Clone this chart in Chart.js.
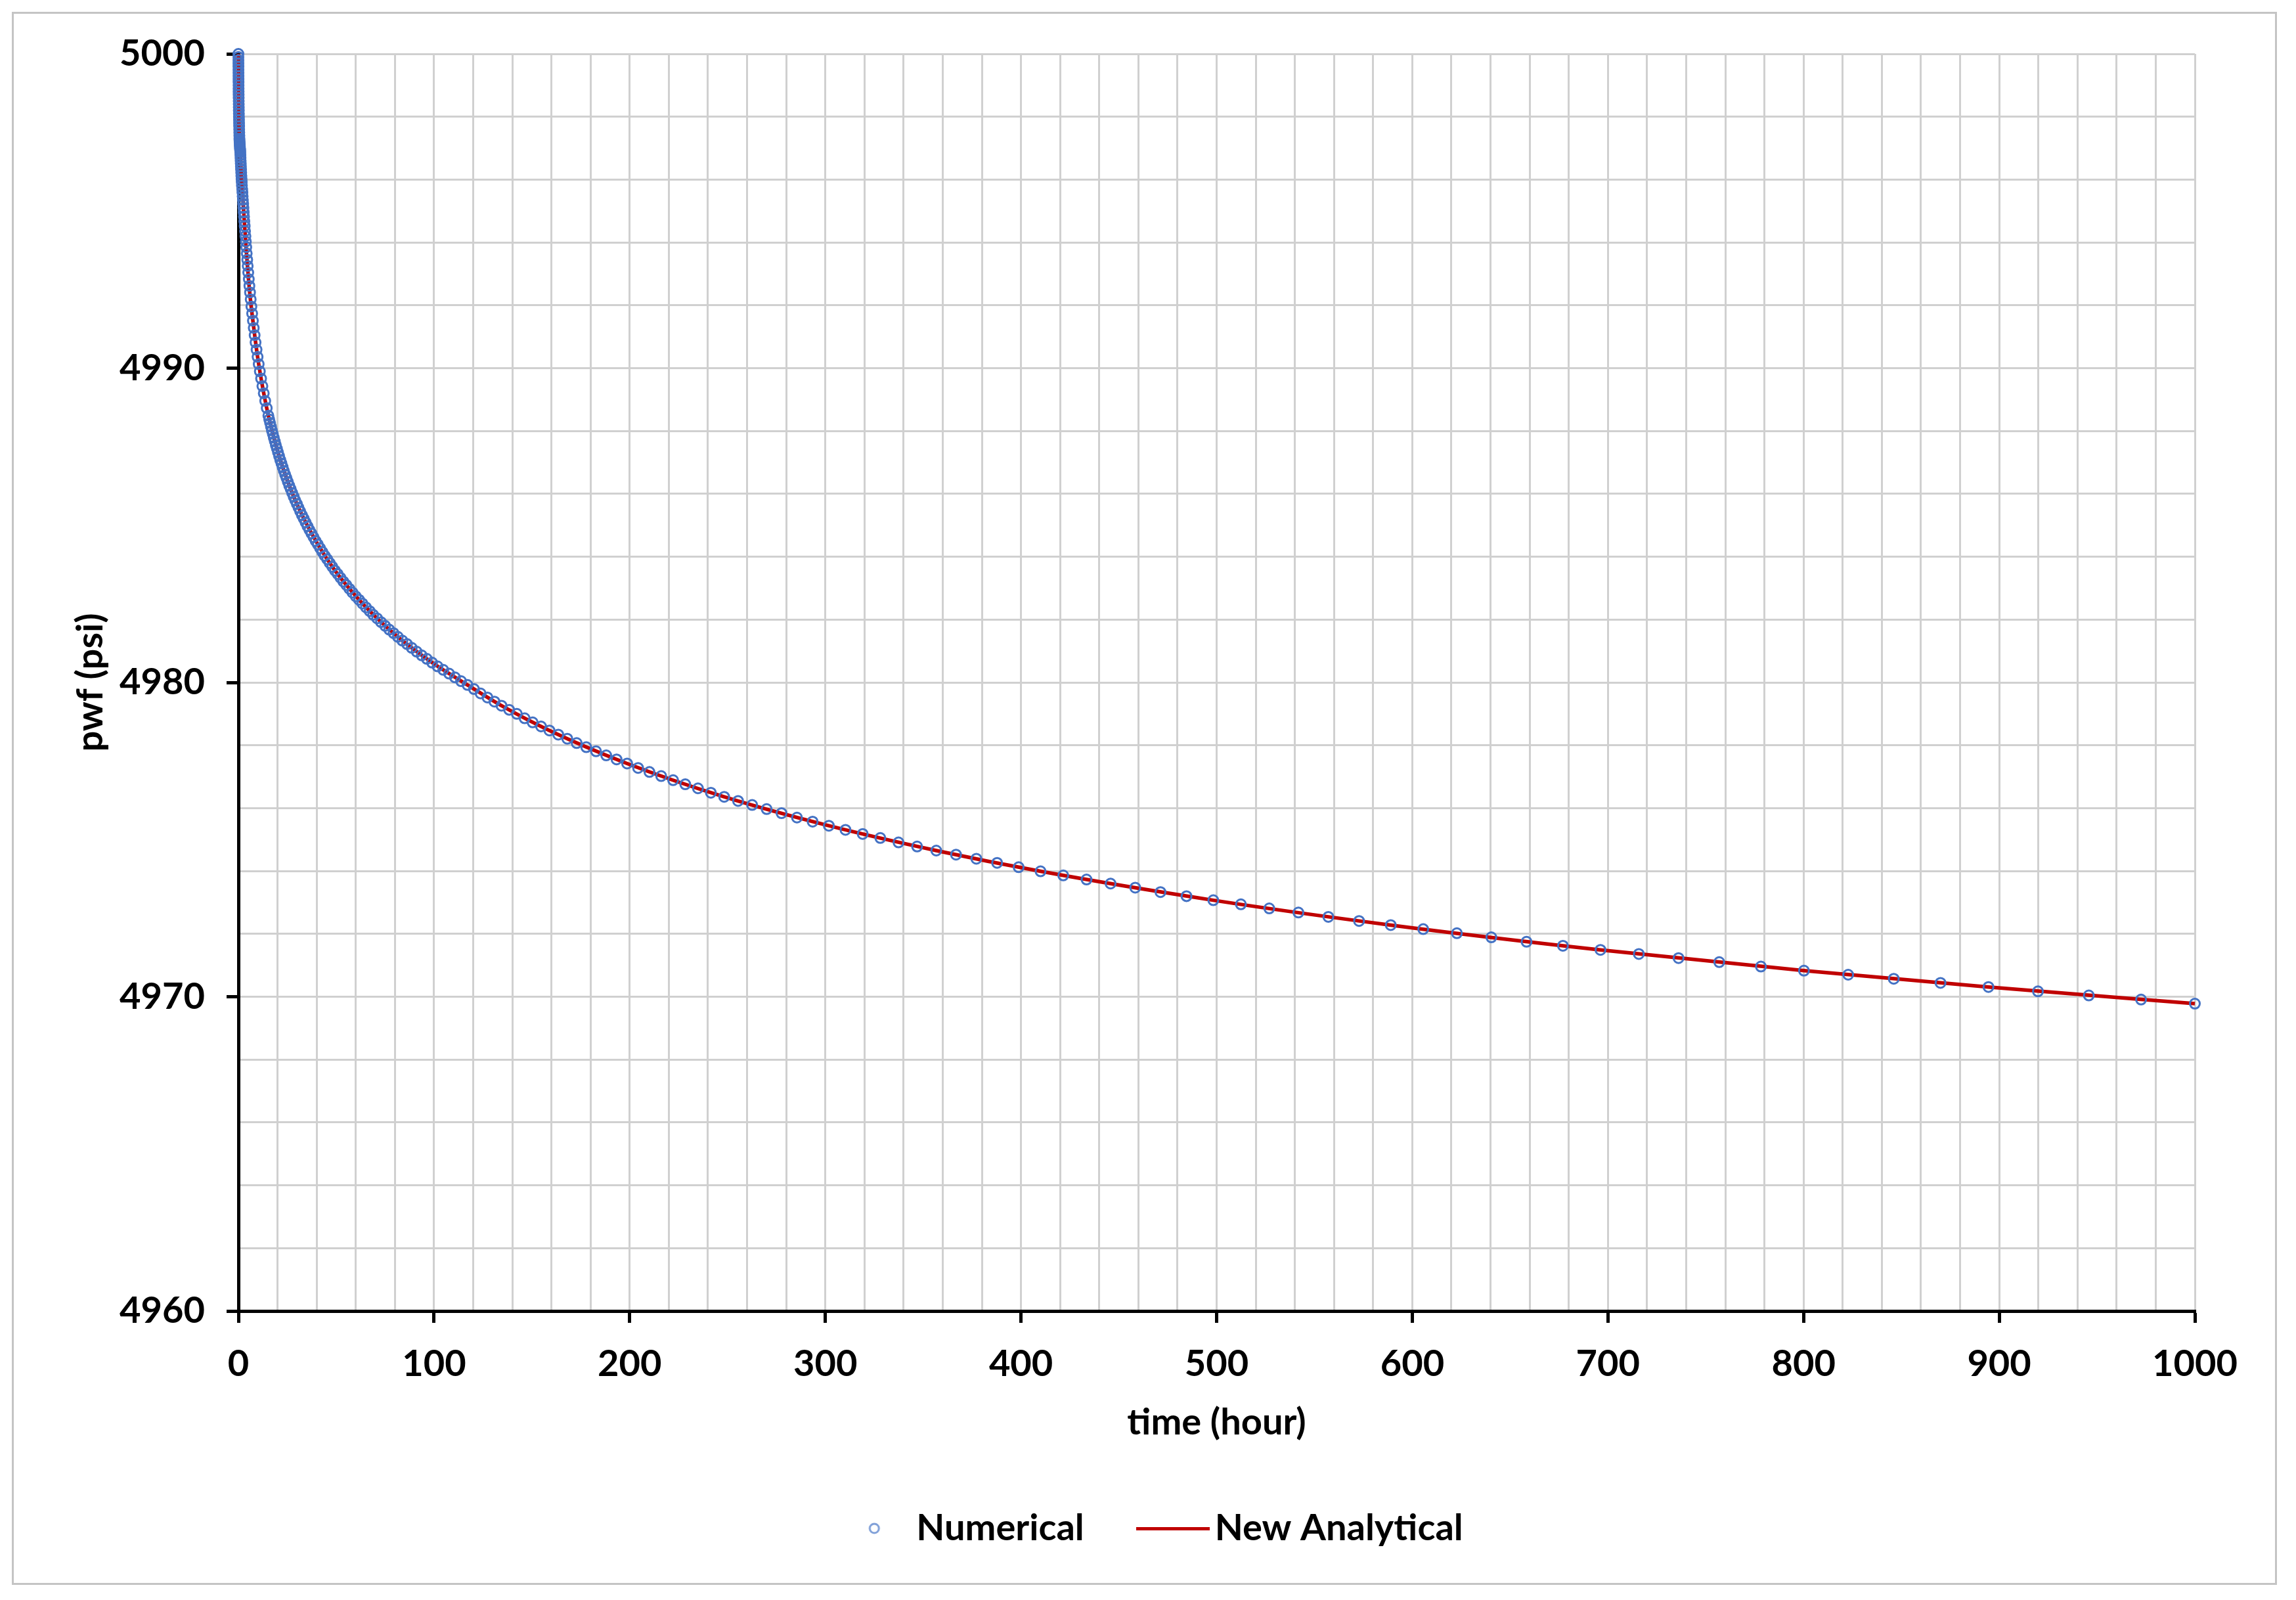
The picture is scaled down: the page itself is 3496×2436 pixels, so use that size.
<!DOCTYPE html>
<html>
<head>
<meta charset="utf-8">
<title>pwf vs time</title>
<script src="https://cdn.jsdelivr.net/npm/chart.js@4.4.1/dist/chart.umd.min.js"></script>
<style>
    html, body { margin: 0; padding: 0; background: #fff; }
    canvas { display: block; }
</style>
</head>
<body>
<canvas id="chart" width="3496" height="2436"></canvas>
<script>
// Numerical run (latest time first, one line per stretch)
const numTime = [
    1000, 972.5, 945.8, 919.8, 894.5, 870.0, 846.1, 822.8, 800.2, 778.2, 756.9, 736.1, 715.8, 696.2, 677.0, 658.4, 640.4, 622.8, 605.6, 589.0, 572.8, 557.1, 541.8, 526.9, 512.4,
    498.3, 484.6, 471.3, 458.4, 445.8, 433.5, 421.6, 410.0, 398.8, 387.8, 377.2, 366.8, 356.7, 346.9, 337.4, 328.1, 319.1, 310.3, 301.8, 293.5, 285.5, 277.6, 270.0, 262.6, 255.4,
    248.3, 241.5, 234.9, 228.4, 222.2, 216.1, 210.1, 204.3, 198.7, 193.3, 188.0, 182.8, 177.8, 172.9, 168.1, 163.5, 159.0, 154.7, 150.4, 146.3, 142.3, 138.4, 134.5, 130.9, 127.3,
    123.8, 120.4, 117.1, 113.8, 110.7, 107.7, 104.7, 101.8, 99.0, 96.3, 93.7, 91.1, 88.6, 86.2, 83.8, 81.5, 79.3, 77.1, 75.0, 72.9, 70.9, 68.9, 67.1, 65.2, 63.4,
    61.68, 59.98, 58.33, 56.73, 55.17, 53.66, 52.18, 50.75, 49.35, 48.00, 46.68, 45.40, 44.15, 42.94, 41.76, 40.61, 39.49, 38.41, 37.35, 36.33, 35.33, 34.36, 33.41, 32.50, 31.60,
    30.74, 29.89, 29.07, 28.27, 27.49, 26.74, 26.00, 25.29, 24.60, 23.92, 23.26, 22.62, 22.00, 21.40, 20.81, 20.24, 19.68, 19.14, 18.62, 18.10, 17.61, 17.12, 16.65, 16.19, 15.75,
    15.32, 14.49, 13.70, 12.96, 12.26, 11.59, 10.96, 10.37, 9.81, 9.28, 8.77, 8.30, 7.85,
    7.42, 7.02, 6.64, 6.28, 5.94, 5.62, 5.31, 5.03, 4.75, 4.50, 4.25, 4.02,
    3.80, 3.60, 3.40, 3.22, 3.04, 2.88, 2.72, 2.58, 2.44, 2.30, 2.18, 2.06, 1.95,
    1.793, 1.696, 1.604, 1.517, 1.435, 1.357, 1.284, 1.214, 1.148, 1.086, 1.027, 0.972,
    0.92, 0.86, 0.8, 0.75, 0.7, 0.65, 0.6, 0.56, 0.52, 0.48, 0.44, 0.4, 0.37, 0.34, 0.31, 0.28, 0.25, 0.22,
    0.2, 0.18, 0.16, 0.14, 0.12, 0.1, 0.09, 0.08, 0.07, 0.06, 0.05, 0.04, 0.03, 0.02, 0.015, 0.01, 0.005, 0
];
const numPwf = [
    4969.78, 4969.91, 4970.04, 4970.17, 4970.31, 4970.44, 4970.57, 4970.70, 4970.83, 4970.96, 4971.10, 4971.23, 4971.36, 4971.49, 4971.62, 4971.75, 4971.89, 4972.02, 4972.15, 4972.28, 4972.41, 4972.54, 4972.68, 4972.81, 4972.94,
    4973.07, 4973.20, 4973.33, 4973.47, 4973.60, 4973.73, 4973.86, 4973.99, 4974.12, 4974.26, 4974.39, 4974.52, 4974.65, 4974.78, 4974.91, 4975.05, 4975.18, 4975.31, 4975.44, 4975.57, 4975.70, 4975.84, 4975.97, 4976.10, 4976.23,
    4976.36, 4976.49, 4976.63, 4976.76, 4976.89, 4977.02, 4977.15, 4977.28, 4977.42, 4977.55, 4977.68, 4977.81, 4977.94, 4978.07, 4978.21, 4978.34, 4978.47, 4978.60, 4978.73, 4978.86, 4979.00, 4979.13, 4979.26, 4979.39, 4979.52,
    4979.65, 4979.79, 4979.92, 4980.04, 4980.16, 4980.28, 4980.40, 4980.51, 4980.63, 4980.75, 4980.86, 4980.98, 4981.10, 4981.22, 4981.33, 4981.45, 4981.57, 4981.68, 4981.80, 4981.92, 4982.04, 4982.15, 4982.27, 4982.39, 4982.51,
    4982.63, 4982.74, 4982.86, 4982.98, 4983.10, 4983.21, 4983.33, 4983.45, 4983.56, 4983.68, 4983.80, 4983.92, 4984.03, 4984.15, 4984.27, 4984.39, 4984.50, 4984.62, 4984.74, 4984.85, 4984.97, 4985.09, 4985.21, 4985.32, 4985.44,
    4985.56, 4985.68, 4985.79, 4985.91, 4986.03, 4986.15, 4986.26, 4986.38, 4986.50, 4986.61, 4986.73, 4986.85, 4986.97, 4987.08, 4987.20, 4987.32, 4987.44, 4987.55, 4987.67, 4987.79, 4987.91, 4988.02, 4988.14, 4988.26, 4988.37,
    4988.49, 4988.73, 4988.96, 4989.20, 4989.43, 4989.67, 4989.90, 4990.13, 4990.36, 4990.59, 4990.82, 4991.05, 4991.28,
    4991.51, 4991.74, 4991.96, 4992.19, 4992.41, 4992.62, 4992.83, 4993.04, 4993.25, 4993.45, 4993.65, 4993.85,
    4994.03, 4994.20, 4994.36, 4994.52, 4994.67, 4994.82, 4994.96, 4995.10, 4995.23, 4995.35, 4995.47, 4995.59, 4995.70,
    4995.81, 4995.92, 4996.02, 4996.12, 4996.22, 4996.32, 4996.42, 4996.51, 4996.60, 4996.69, 4996.78, 4996.87,
    4996.92, 4996.96, 4997.0, 4997.05, 4997.1, 4997.15, 4997.2, 4997.25, 4997.3, 4997.4, 4997.5, 4997.6, 4997.7, 4997.8, 4997.9, 4998.0, 4998.1, 4998.2,
    4998.3, 4998.4, 4998.5, 4998.6, 4998.7, 4998.8, 4998.9, 4999.0, 4999.1, 4999.2, 4999.3, 4999.4, 4999.5, 4999.6, 4999.7, 4999.8, 4999.9, 5000
];

// New Analytical curve
const anaTime = [0, 0.1, 0.3, 0.5, 1, 1.5, 2, 3, 4, 5, 6, 8, 10, 12.96, 15.32, 20.24, 25.29, 30.74, 40.61, 49.35,
    61.68, 70.89, 81.49, 99.04, 117.1, 134.5, 159.0, 198.7, 248.3, 301.8, 356.7, 410.0, 498.3, 589.0, 696.2, 800.2, 894.5, 1000];
const anaPwf = [5000, 4998.8, 4997.93, 4997.35, 4996.83, 4996.14, 4995.65, 4994.71, 4993.77, 4992.96, 4992.27, 4991.21, 4990.28, 4989.20, 4988.49, 4987.32, 4986.38, 4985.56, 4984.39, 4983.56,
    4982.63, 4982.04, 4981.45, 4980.63, 4979.92, 4979.26, 4978.47, 4977.42, 4976.36, 4975.44, 4974.65, 4973.99, 4973.07, 4972.28, 4971.49, 4970.83, 4970.31, 4969.78];

const xLabels = [0, 100, 200, 300, 400, 500, 600, 700, 800, 900, 1000];
const yLabels = [4960, 4970, 4980, 4990, 5000];

const BLUE = '#4472C4';
const RED = '#C00000';
const font = {family: 'Lato', size: 56, weight: 'bold'};

const isLabel = (list, v) => list.some(l => Math.abs(l - v) < 1e-6);

function legendMark(kind) {
    const c = document.createElement('canvas');
    const g = c.getContext('2d');
    if (kind === 'circle') {
        c.width = 22;
        c.height = 22;
        g.strokeStyle = '#7f9fd8';
        g.lineWidth = 3;
        g.beginPath();
        g.arc(11, 11, 7, 0, Math.PI * 2);
        g.stroke();
    } else {
        c.width = 112;
        c.height = 8;
        g.fillStyle = RED;
        g.fillRect(0, 2, 112, 5);
    }
    return c;
}

const marks = [legendMark('circle'), legendMark('line')];

const frame = {
    id: 'frame',
    beforeDraw(chart) {
        const g = chart.ctx;
        g.save();
        g.fillStyle = '#fff';
        g.fillRect(0, 0, chart.width, chart.height);
        g.strokeStyle = '#c4c4c4';
        g.lineWidth = 3;
        g.strokeRect(19.5, 19.5, 3446, 2392);
        g.restore();
    }
};

function axisGrid(list) {
    return {
        color: '#d0d0d0',
        lineWidth: 3,
        tickLength: 18,
        tickWidth: 5,
        tickColor: c => (c.tick && isLabel(list, c.tick.value)) ? '#000' : 'rgba(0,0,0,0)'
    };
}

new Chart(document.getElementById('chart'), {
    type: 'scatter',
    data: {
        datasets: [{
            label: 'Numerical',
            data: numTime.map((t, i) => ({x: t, y: numPwf[i]})),
            showLine: false,
            pointStyle: 'circle',
            pointRadius: 7.5,
            pointBorderWidth: 3,
            pointBorderColor: BLUE,
            pointBackgroundColor: 'rgba(0,0,0,0)',
            borderColor: BLUE,
            clip: false
        }, {
            label: 'New Analytical',
            data: anaTime.map((t, i) => ({x: t, y: anaPwf[i]})),
            showLine: true,
            borderColor: RED,
            borderWidth: 5.5,
            pointRadius: 0,
            cubicInterpolationMode: 'monotone',
            clip: false
        }]
    },
    options: {
        responsive: false,
        animation: false,
        devicePixelRatio: 1,
        events: [],
        layout: {
            padding: {left: 181, right: 154, top: 82, bottom: 71}
        },
        plugins: {
            tooltip: {enabled: false},
            legend: {
                position: 'bottom',
                labels: {
                    usePointStyle: true,
                    pointStyleWidth: 72,
                    padding: 99,
                    color: '#000',
                    font: font,
                    generateLabels(chart) {
                        const items = Chart.defaults.plugins.legend.labels.generateLabels(chart);
                        items.forEach((it, i) => { it.pointStyle = marks[i]; });
                        return items;
                    }
                }
            }
        },
        scales: {
            x: {
                type: 'linear',
                min: 0,
                max: 1000,
                ticks: {
                    stepSize: 20,
                    autoSkip: false,
                    maxRotation: 0,
                    padding: 29,
                    color: '#000',
                    font: font,
                    callback: v => isLabel(xLabels, v) ? String(v) : ''
                },
                grid: axisGrid(xLabels),
                border: {color: '#000', width: 5},
                title: {display: true, text: 'time (hour)', color: '#000', font: font, padding: {top: 0, bottom: 0}},
                afterFit: s => { s.height = 204; }
            },
            y: {
                type: 'linear',
                min: 4960,
                max: 5000,
                ticks: {
                    stepSize: 2,
                    autoSkip: false,
                    padding: 33,
                    color: '#000',
                    font: font,
                    callback: v => isLabel(yLabels, v) ? String(v) : ''
                },
                grid: axisGrid(yLabels),
                border: {color: '#000', width: 5},
                title: {display: true, text: 'pwf (psi)', color: '#000', font: font, padding: {top: -77, bottom: 0}},
                afterFit: s => { s.width = 182; }
            }
        }
    },
    plugins: [frame]
});
</script>
</body>
</html>
